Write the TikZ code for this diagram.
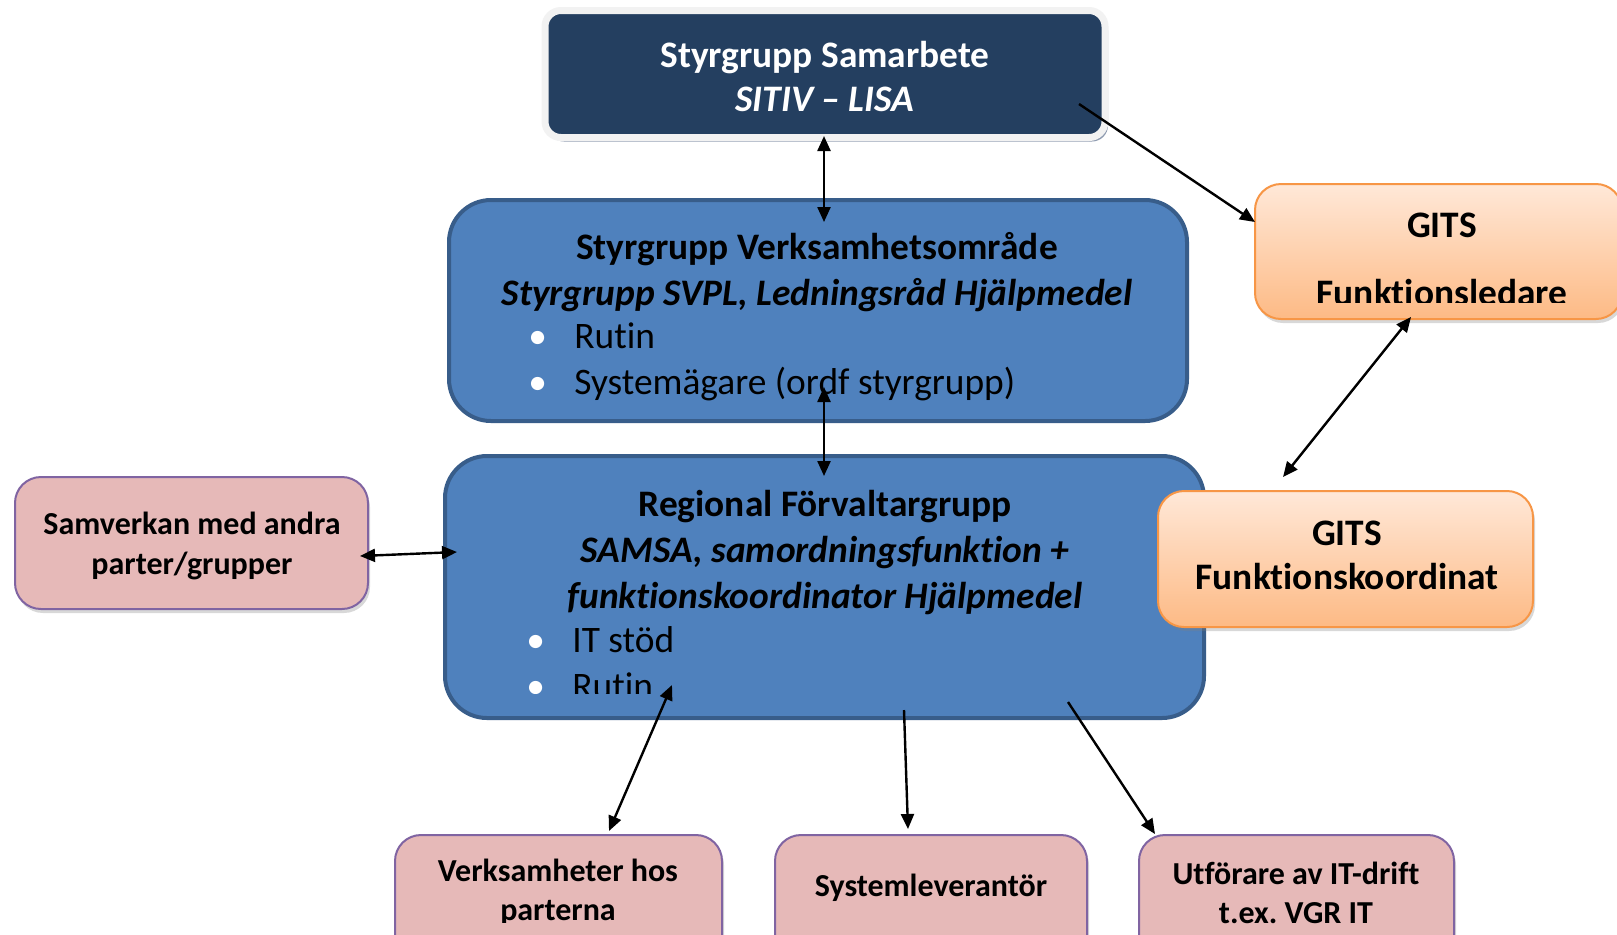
\documentclass[tikz,border=0pt]{standalone}
\usepackage{fontspec}
\setmainfont[Ligatures=NoCommon]{Carlito}
\usetikzlibrary{arrows.meta,shadows}
\frenchspacing

\definecolor{navy}{HTML}{243F60}
\definecolor{framegray}{HTML}{F2F2F2}
\definecolor{shadegray}{HTML}{8E9BB0}
\definecolor{boxblue}{HTML}{4F81BD}
\definecolor{blueline}{HTML}{385D8A}
\definecolor{orangetop}{HTML}{FFE8D8}
\definecolor{orangebot}{HTML}{FDBA85}
\definecolor{orangeline}{HTML}{F79646}
\definecolor{pinkfill}{HTML}{E6B9B8}
\definecolor{pinkline}{HTML}{8064A2}

\newcommand{\blt}{\makebox[23pt][l]{\textcolor{white}{•}}}

\begin{document}
\begin{tikzpicture}
  [x=0.5pt,y=-0.5pt,
   navybox/.style={fill=navy,draw=framegray,line width=3.5pt,rounded corners=8pt,
     drop shadow={shadow xshift=1.5pt,shadow yshift=-2pt,fill=shadegray,opacity=1}},
   bluebox/.style={fill=boxblue,draw=blueline,line width=2pt,rounded corners=21pt},
   orangebox/.style={top color=orangetop,bottom color=orangebot,draw=orangeline,
     line width=1pt,rounded corners=13pt,
     drop shadow={shadow xshift=1pt,shadow yshift=-2pt,opacity=.3}},
   pinkbox/.style={fill=pinkfill,draw=pinkline,line width=1pt,rounded corners=13pt,
     drop shadow={shadow xshift=1pt,shadow yshift=-2pt,opacity=.3}},
   label/.style={inner sep=0pt,align=center},
   link/.style={line width=1.2pt,>={Triangle[length=7.5pt,width=6.5pt]}}]
  \path [use as bounding box,fill=white] (0,0) rectangle (1617,934);

  % boxes
  \node [navybox,minimum width=280pt,minimum height=63.5pt] (styr) at (825,74) {};
  \node [bluebox,minimum width=369pt,minimum height=110.5pt] (verk) at (818,310.5) {};
  \node [bluebox,minimum width=379.5pt,minimum height=131pt] (forv) at (824.5,587) {};
  \node [orangebox,minimum width=183.5pt,minimum height=67.5pt] (gitsl) at (1438.5,251.5) {};
  \node [orangebox,minimum width=187.5pt,minimum height=68pt] (gitsk) at (1345.5,559) {};
  \node [pinkbox,minimum width=176.5pt,minimum height=66pt] (samv) at (191.5,543) {};
  \node [pinkbox,minimum width=163.5pt,minimum height=65pt] (verks) at (558.5,900) {};
  \node [pinkbox,minimum width=156pt,minimum height=65pt] (lev) at (931,900) {};
  \node [pinkbox,minimum width=157.5pt,minimum height=65pt] (drift) at (1296.5,900) {};

  % texts
  \node [label,text=white,font={\fontsize{18.7}{22}\selectfont\bfseries}] (styrtxt) at (825,76)
    {Styrgrupp Samarbete\\\textit{SITIV – LISA}};
  \node [label,font={\fontsize{18.7}{23}\selectfont\bfseries}] (verktxt) at (817,272)
    {Styrgrupp Verksamhetsområde\\\textit{Styrgrupp SVPL, Ledningsråd Hjälpmedel}};
  \node [label,align=left,anchor=west,font={\fontsize{18.7}{23}\selectfont}] (verklist) at (528,362)
    {\blt Rutin\\\blt Systemägare (ordf styrgrupp)};
  \node [label,font={\fontsize{18.7}{23}\selectfont\bfseries}] (forvtxt) at (825,552.5)
    {Regional Förvaltargrupp\\\textit{SAMSA, samordningsfunktion +}\\\textit{funktionskoordinator Hjälpmedel}};
  \begin{scope}
    \clip (430,600) rectangle (1220,693);
    \node [label,align=left,anchor=west,font={\fontsize{18.7}{23}\selectfont}] (forvlist) at (526,663)
      {\blt IT stöd\\\blt Rutin};
  \end{scope}
  \begin{scope}
    \clip (1250,180) rectangle (1617,302);
    \node [label,font={\fontsize{18.7}{22}\selectfont\bfseries}] (gitsltxt) at (1442,259)
      {GITS\\[12pt]Funktionsledare};
  \end{scope}
  \node [label,font={\fontsize{18.7}{22}\selectfont\bfseries}] (gitsktxt) at (1347,555.5)
    {GITS\\Funktionskoordinat};
  \node [label,font={\fontsize{16}{20}\selectfont\bfseries}] (samvtxt) at (192,545.5)
    {Samverkan med andra\\parter/grupper};
  \begin{scope}
    \clip (390,840) rectangle (730,922);
    \node [label,font={\fontsize{16}{19.5}\selectfont\bfseries}] (verkstxt) at (558,892.5)
      {Verksamheter hos\\parterna};
  \end{scope}
  \node [label,font={\fontsize{16}{19.5}\selectfont\bfseries}] (levtxt) at (931,888)
    {Systemleverantör};
  \node [label,font={\fontsize{16}{19.5}\selectfont\bfseries}] (drifttxt) at (1296,892.5)
    {Utförare av IT-drift\\t.ex. VGR IT};

  % arrow ends
  \coordinate (styr-s) at (824,136);
  \coordinate (verk-n) at (824,222);
  \coordinate (verk-s) at (824,387);
  \coordinate (forv-n) at (824,476);
  \coordinate (gitsl-s) at (1411,317);
  \coordinate (gitsk-n) at (1283,477);
  \coordinate (samv-e) at (360,556);
  \coordinate (forv-w) at (457,552);
  \coordinate (forv-a) at (672,685);
  \coordinate (verks-n) at (609,831);
  \coordinate (styr-e) at (1079,104);
  \coordinate (gitsl-w) at (1255,222);
  \coordinate (forv-b) at (904,710);
  \coordinate (lev-n) at (908,829);
  \coordinate (forv-c) at (1068,702);
  \coordinate (drift-n) at (1155,834);

  \foreach \from/\to in {styr-s/verk-n,verk-s/forv-n,gitsl-s/gitsk-n,samv-e/forv-w,forv-a/verks-n}
    \draw [link,<->] (\from) -- (\to);
  \foreach \from/\to in {styr-e/gitsl-w,forv-b/lev-n,forv-c/drift-n}
    \draw [link,->] (\from) -- (\to);
\end{tikzpicture}
\end{document}
